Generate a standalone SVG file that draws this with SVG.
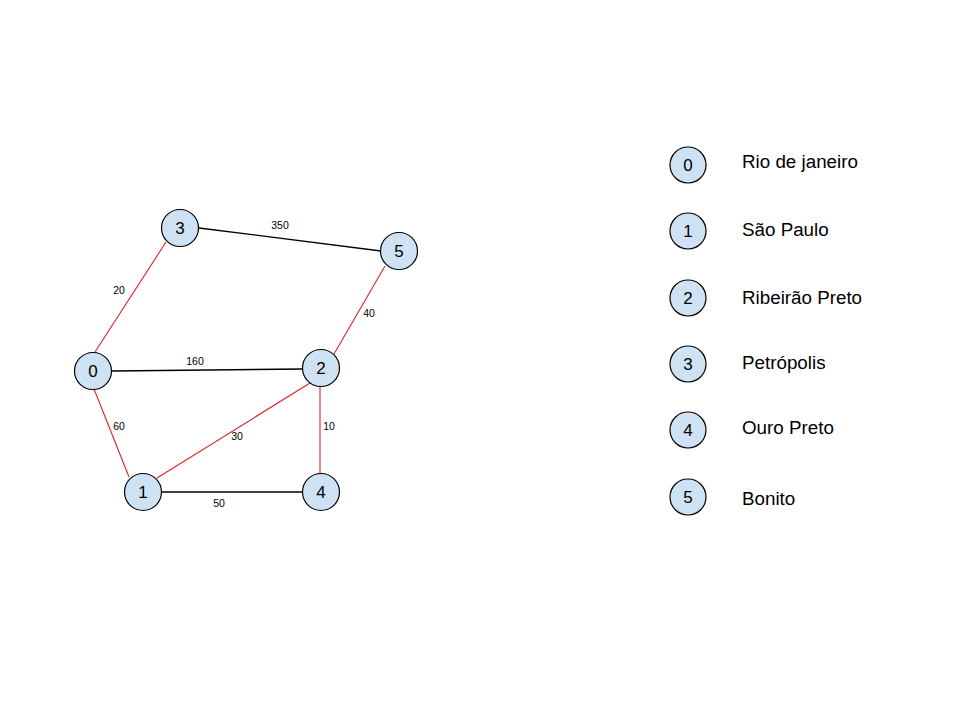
<svg xmlns="http://www.w3.org/2000/svg" width="960" height="720" viewBox="0 0 960 720">
<style>
.n circle{fill:#cfe2f3;stroke:#000;stroke-width:1.2}
.n text{font-family:"Liberation Sans",Arial,sans-serif;font-size:17px;text-anchor:middle;fill:#000}
.e{fill:none}
.blk{stroke:#000;stroke-width:1.3}
.red{stroke:#e0202a;stroke-width:1.1}
.lbl{font-family:"Liberation Sans",Arial,sans-serif;font-size:10.5px;fill:#000;text-anchor:middle}
.n text.city{font-family:"Liberation Sans",Arial,sans-serif;font-size:18.8px;fill:#000;text-anchor:start}
</style>
<rect width="960" height="720" fill="#fff"/>
<g id="connectors">
<line class="e blk" x1="199" y1="228" x2="381" y2="251"/>
<line class="e blk" x1="112" y1="371" x2="302" y2="369"/>
<line class="e blk" x1="161" y1="492" x2="302" y2="492"/>
<line class="e red" x1="166" y1="242" x2="95" y2="352"/>
<line class="e red" x1="385" y1="266" x2="334" y2="354"/>
<line class="e red" x1="94" y1="389" x2="129" y2="477"/>
<line class="e red" x1="157" y1="478" x2="310" y2="383"/>
<line class="e red" x1="320" y1="386" x2="320" y2="474"/>
<text class="lbl" x="119" y="294">20</text>
<text class="lbl" x="195" y="365">160</text>
<text class="lbl" x="280" y="229">350</text>
<text class="lbl" x="369" y="317">40</text>
<text class="lbl" x="119" y="430">60</text>
<text class="lbl" x="237" y="440">30</text>
<text class="lbl" x="329" y="430">10</text>
<text class="lbl" x="219" y="507">50</text>
</g>
<g id="node0" class="n"><circle cx="93" cy="371" r="18.5"/><text x="93" y="377">0</text></g>
<g id="node1" class="n"><circle cx="143" cy="492" r="18.5"/><text x="143" y="498">1</text></g>
<g id="node2" class="n"><circle cx="321" cy="368" r="18.5"/><text x="321" y="374">2</text></g>
<g id="node3" class="n"><circle cx="180" cy="228" r="18.5"/><text x="180" y="234">3</text></g>
<g id="node4" class="n"><circle cx="321" cy="492" r="18.5"/><text x="321" y="498">4</text></g>
<g id="node5" class="n"><circle cx="399" cy="251" r="18.5"/><text x="399" y="257">5</text></g>
<g id="legend0" class="n"><circle cx="688" cy="165" r="18"/><text x="688" y="171">0</text><text class="city" x="742" y="168">Rio de janeiro</text></g>
<g id="legend1" class="n"><circle cx="688" cy="231" r="18"/><text x="688" y="237">1</text><text class="city" x="742" y="236">São Paulo</text></g>
<g id="legend2" class="n"><circle cx="688" cy="298" r="18"/><text x="688" y="304">2</text><text class="city" x="742" y="304">Ribeirão Preto</text></g>
<g id="legend3" class="n"><circle cx="688" cy="364" r="18"/><text x="688" y="370">3</text><text class="city" x="742" y="369">Petrópolis</text></g>
<g id="legend4" class="n"><circle cx="688" cy="430" r="18"/><text x="688" y="436">4</text><text class="city" x="742" y="434">Ouro Preto</text></g>
<g id="legend5" class="n"><circle cx="688" cy="497" r="18"/><text x="688" y="503">5</text><text class="city" x="742" y="505">Bonito</text></g>
</svg>
